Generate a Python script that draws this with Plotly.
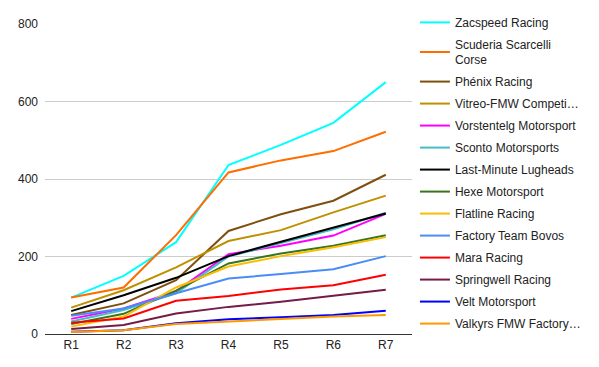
import plotly.graph_objects as go

rounds = ["R1", "R2", "R3", "R4", "R5", "R6", "R7"]

teams = [
    "Zacspeed Racing",
    "Scuderia Scarcelli<br>Corse",
    "Phénix Racing",
    "Vitreo-FMW Competi…",
    "Vorstentelg Motorsport",
    "Sconto Motorsports",
    "Last-Minute Lugheads",
    "Hexe Motorsport",
    "Flatline Racing",
    "Factory Team Bovos",
    "Mara Racing",
    "Springwell Racing",
    "Velt Motorsport",
    "Valkyrs FMW Factory…",
]

zacspeed = [94, 150, 237, 436, 488, 545, 650]
scuderia = [94, 120, 255, 417, 448, 472, 522]
phenix = [49, 79, 139, 266, 309, 344, 411]
vitreo = [68, 113, 172, 240, 268, 314, 357]
vorstentelg = [39, 66, 110, 206, 228, 254, 310]
sconto = [32, 62, 105, 200, 235, 270, 313]
last_minute = [59, 100, 145, 201, 238, 274, 311]
hexe = [26, 52, 112, 182, 208, 228, 255]
flatline = [19, 45, 120, 174, 201, 224, 250]
bovos = [47, 66, 105, 143, 155, 167, 201]
mara = [29, 40, 86, 98, 115, 126, 153]
springwell = [13, 23, 53, 70, 83, 98, 114]
velt = [6, 10, 28, 38, 43, 49, 60]
valkyrs = [5, 10, 26, 32, 38, 45, 49]

series = [zacspeed, scuderia, phenix, vitreo, vorstentelg, sconto, last_minute,
          hexe, flatline, bovos, mara, springwell, velt, valkyrs]

colors = ["#00ffff", "#ff6d01", "#7f4f0f", "#bf9000", "#ff00ff", "#46bdc6",
          "#000000", "#38761d", "#fbbc04", "#4a8cf7", "#ff0000", "#741b47",
          "#0000ff", "#ff9900"]

fig = go.Figure()
for i, (name, vals, col) in enumerate(zip(teams, series, colors)):
    fig.add_trace(go.Scatter(
        x=rounds, y=vals, name=name, mode="lines",
        line=dict(color=col, width=2),
        legendgroup=f"g{i}",
    ))

fig.update_layout(
    width=591, height=359,
    margin=dict(l=37, r=187, t=16, b=33, autoexpand=False),
    paper_bgcolor="white", plot_bgcolor="white",
    font=dict(family="Arial, Liberation Sans, sans-serif", size=12, color="#222222"),
    showlegend=True,
    legend=dict(
        x=1.008, xanchor="left", y=1.052, yanchor="top",
        traceorder="grouped",
        tracegroupgap=3,
        font=dict(size=12, color="#222222"),
        itemwidth=30,
        maxheight=360,
    ),
    xaxis=dict(
        type="category", range=[-0.5, 6.5], showgrid=False,
        showline=True, linecolor="#333333", linewidth=1,
        ticks="", tickfont=dict(size=12, color="#222222"),
        zeroline=False,
    ),
    yaxis=dict(
        range=[0, 800], tickvals=[0, 200, 400, 600, 800],
        showgrid=True, gridcolor="#cccccc", gridwidth=1,
        zeroline=False, showline=False, ticks="",
        ticklabelstandoff=6,
        tickfont=dict(size=12, color="#222222"),
    ),
)

fig.write_html("out.html")
